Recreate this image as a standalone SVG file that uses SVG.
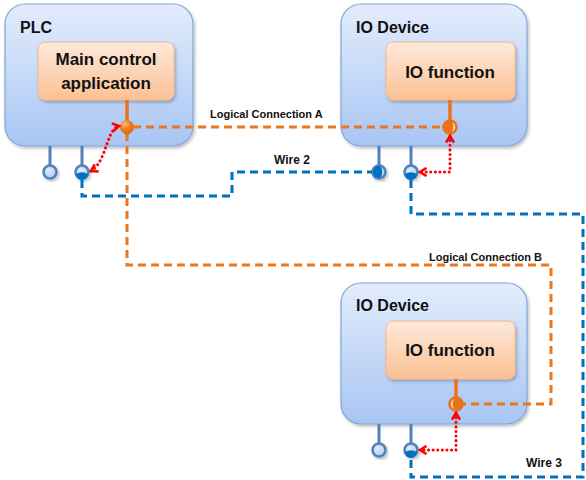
<svg xmlns="http://www.w3.org/2000/svg" width="586" height="480" viewBox="0 0 586 480">
<defs>
<linearGradient id="gBox" x1="0" y1="0" x2="0" y2="1"><stop offset="0" stop-color="#e3edfc"/><stop offset="1" stop-color="#a8c5f3"/></linearGradient>
<linearGradient id="gFn" x1="0" y1="0" x2="0" y2="1"><stop offset="0" stop-color="#fde9da"/><stop offset="1" stop-color="#fbc193"/></linearGradient>
<radialGradient id="gPort" cx="0.4" cy="0.35" r="0.7"><stop offset="0" stop-color="#e6efff"/><stop offset="1" stop-color="#a9c4ee"/></radialGradient>
<radialGradient id="gOr" cx="0.35" cy="0.3" r="0.8"><stop offset="0" stop-color="#fbb77f"/><stop offset="0.5" stop-color="#ec7a1c"/><stop offset="1" stop-color="#d9650a"/></radialGradient>
<filter id="sh" x="-10%" y="-10%" width="130%" height="130%"><feDropShadow dx="1.5" dy="2" stdDeviation="1.5" flood-color="#000" flood-opacity="0.25"/></filter>
<marker id="chev" viewBox="0 0 10 10" refX="8" refY="5" markerWidth="10" markerHeight="10" markerUnits="userSpaceOnUse" orient="auto-start-reverse"><path d="M1.5,1 L8,5 L1.5,9" fill="none" stroke="#ff0000" stroke-width="2.6" stroke-linejoin="miter"/></marker>
<style>
.box{fill:url(#gBox);stroke:#7fa6d9;stroke-width:1.2;filter:url(#sh)}
.fn{fill:url(#gFn);stroke:#f4b78a;stroke-width:1;filter:url(#sh)}
.title{font-family:"Liberation Sans",Arial,sans-serif;font-weight:bold;font-size:16px;fill:#111}
.fnt{font-family:"Liberation Sans",Arial,sans-serif;font-weight:bold;font-size:17px;fill:#111;text-anchor:middle}
.lbl{font-family:"Liberation Sans",Arial,sans-serif;font-weight:bold;font-size:11px;fill:#111}
.stub{stroke:#4f81bd;stroke-width:3;fill:none}
.port{fill:url(#gPort);stroke:#4f81bd;stroke-width:2.5;filter:url(#sh)}
.ostub{stroke:#e8731a;stroke-width:3.5;fill:none}
.blue{stroke:#0070c0;stroke-width:3;fill:none;stroke-dasharray:8 5}
.orange{stroke:#e8781f;stroke-width:3;fill:none;stroke-dasharray:8 5}
.red{stroke:#ff0000;stroke-width:3;fill:none;stroke-dasharray:0.1 4.5;stroke-linecap:round;marker-start:url(#chev);marker-end:url(#chev)}
.bdot{fill:#0070c0}
.odot{fill:#e8731a}
.ocirc{fill:#fcd3b2;stroke:#e8731a;stroke-width:2.5}
</style>
</defs>

<g id="plc">
<rect class="box" x="5" y="4" width="188" height="142" rx="20"/>
<text class="title" x="20" y="33">PLC</text>
<rect class="fn" x="38" y="42" width="136" height="58" rx="7"/>
<text class="fnt" x="106" y="65">Main control</text>
<text class="fnt" x="106" y="89">application</text>
<line class="stub" x1="50" y1="146" x2="50" y2="165"/>
<circle class="port" cx="50" cy="172" r="6.5"/>
<line class="stub" x1="82" y1="146" x2="82" y2="165"/>
<circle class="port" cx="82" cy="172" r="6.5"/>
</g>

<g id="iodev1">
<rect class="box" x="341" y="4" width="186" height="142" rx="20"/>
<text class="title" x="356" y="33">IO Device</text>
<rect class="fn" x="386" y="42" width="129" height="58" rx="7"/>
<text class="fnt" x="450" y="78">IO function</text>
<line class="stub" x1="379" y1="146" x2="379" y2="165"/>
<circle class="port" cx="379" cy="172" r="6.5"/>
<line class="stub" x1="411" y1="146" x2="411" y2="165"/>
<circle class="port" cx="411" cy="172" r="6.5"/>
</g>

<g id="iodev2">
<rect class="box" x="341" y="283" width="186" height="141" rx="20"/>
<text class="title" x="356" y="311">IO Device</text>
<rect class="fn" x="386" y="321" width="129" height="58" rx="7"/>
<text class="fnt" x="450" y="356">IO function</text>
<line class="stub" x1="379" y1="424" x2="379" y2="443"/>
<circle class="port" cx="379" cy="450" r="6.5"/>
<line class="stub" x1="411" y1="424" x2="411" y2="443"/>
<circle class="port" cx="411" cy="450" r="6.5"/>
</g>

<g id="connectors">
<path class="orange" d="M133 127 H443"/>
<text class="lbl" x="210" y="118">Logical Connection A</text>
<path class="orange" d="M127 133 V265 H551 V404 H463"/>
<text class="lbl" x="429" y="261">Logical Connection B</text>
<path class="blue" d="M82 180 V196 H232 V172 H372"/>
<text class="lbl" x="274" y="164" style="font-size:12px">Wire 2</text>
<path class="blue" d="M411 180 V214 H583 V477 H411 V458"/>
<text class="lbl" x="526" y="467" style="font-size:12px">Wire 3</text>

<line class="ostub" x1="127" y1="100" x2="127" y2="121"/>
<path class="odot" d="M119.5 127 L127 137 L134.5 127 Z"/>
<circle cx="127" cy="127" r="7" fill="url(#gOr)"/>
<line class="ostub" x1="450" y1="100" x2="450" y2="120"/>
<circle class="ocirc" cx="450" cy="127" r="6.5"/>
<path class="odot" d="M450 120.5 A6.5 6.5 0 0 0 450 133.5 A3.2 6.5 0 0 0 450 120.5 Z"/>
<line class="ostub" x1="456" y1="379" x2="456" y2="397"/>
<circle class="ocirc" cx="456" cy="404" r="6.5"/>
<path class="odot" d="M456 397.5 A6.5 6.5 0 0 1 456 410.5 A3.2 6.5 0 0 1 456 397.5 Z"/>

<path class="bdot" d="M76 174 A6 6 0 0 0 88 174 Q82 170.5 76 174 Z"/>
<path class="bdot" d="M373 172 a6 6 0 0 0 6 6 a3.2 6 0 0 0 0 -12 a6 6 0 0 0 -6 6 Z"/>
<path class="bdot" d="M405 174 A6 6 0 0 0 417 174 Q411 170.5 405 174 Z"/>
<path class="bdot" d="M405 452 A6 6 0 0 0 417 452 Q411 448.5 405 452 Z"/>

<path class="red" d="M91 171 C100 166 104 152 108 141 C111 133 114 127 119 126"/>
<path class="red" d="M450 136 V172 H420"/>
<path class="red" d="M456 413 V450 H420"/>
</g>
</svg>
